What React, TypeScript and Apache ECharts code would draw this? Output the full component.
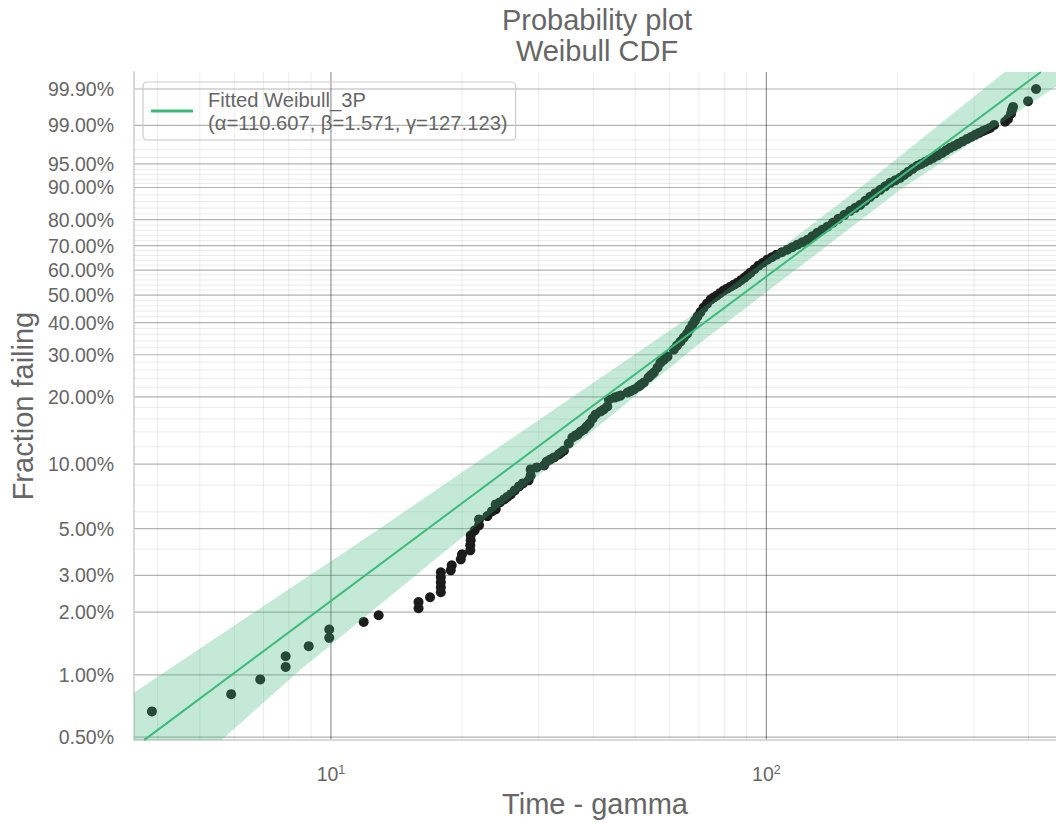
import React, { useEffect, useRef } from "react";
import * as echarts from "echarts";

const FONT = "'Liberation Sans', Arial, Helvetica, sans-serif";
const TEXT = "#666666";
const GREEN = "#3dbb7b";
const BAND = "rgba(61,187,123,0.3)";
const POINT = "#1c1c1c";

// Fitted Weibull_3P parameters
const ALPHA = 110.607;
const BETA = 1.571;
const GAMMA = 127.123;

// axis limits (time - gamma, fraction failing in %)
const xLimits = [3.53, 462.5];
const yLimitsPct = [0.4841, 99.9763];

// tick values
const yMajorTicksPct = [0.5, 1, 2, 3, 5, 10, 20, 30, 40, 50, 60, 70, 80, 90, 95, 99, 99.9];
const yMinorTicksPct = [
  4, 6, 8, 12, 14, 16, 18, 22, 24, 26, 28, 32, 34, 36, 38, 42, 44, 46, 48, 52, 54, 56, 58,
  62, 64, 66, 68, 72, 74, 76, 78, 82, 84, 86, 88, 91, 92, 93, 94, 96, 97, 98,
];
const xMajorTicks = [10, 100];
const xMinorTicks = [4, 5, 6, 7, 8, 9, 20, 30, 40, 50, 60, 70, 80, 90, 200, 300, 400];

// failure data: time - gamma and plotted fraction failing (%)
const failureTimes = [
  3.88, 5.9, 6.88, 7.87, 7.87, 8.89, 9.91, 9.91, 11.89, 12.87,
  15.89, 15.89, 16.89, 17.88, 17.88, 17.88, 17.88, 17.88, 18.84, 18.94,
  19.87, 20.0, 20.89, 20.89, 20.94, 20.94, 21.39, 21.88, 21.88, 22.87,
  23.41, 23.9, 23.9, 24.42, 24.97, 25.41, 25.87, 26.42, 27.03, 27.57,
  28.45, 28.75, 28.75, 29.69, 30.86, 31.3, 31.88, 32.53, 33.35, 33.79,
  34.29, 35.16, 35.85, 36.47, 36.87, 37.45, 38.12, 38.66, 39.26, 39.9,
  40.53, 41.61, 42.28, 43.11, 43.48, 44.81, 45.52, 46.25, 48.0, 48.76,
  49.62, 50.87, 51.54, 52.31, 53.63, 54.34, 55.15, 56.23, 57.13, 58.2,
  59.29, 61.3, 62.33, 63.51, 64.61, 65.79, 66.68, 67.66, 68.55, 69.46,
  70.56, 71.72, 73.03, 74.41, 75.58, 76.81, 78.21, 79.71, 81.17, 82.7,
  84.23, 85.82, 87.41, 89.04, 90.45, 91.9, 93.87, 95.87, 98.17, 100.5,
  102.9, 105.4, 108.5, 111.7, 114.7, 117.8, 120.9, 124.2, 127.5, 130.9,
  134.4, 138.0, 142.1, 146.3, 151.0, 155.8, 160.0, 164.3, 168.7, 173.2,
  177.8, 182.6, 187.5, 192.5, 197.7, 202.9, 207.3, 211.7, 216.8, 222.0,
  226.8, 231.6, 236.5, 241.5, 247.4, 253.3, 258.7, 264.2, 269.9, 275.6,
  282.3, 289.1, 295.3, 301.6, 308.0, 314.6, 320.4, 326.4, 333.4, 353.4,
  358.9, 364.7, 366.6, 368.6, 399.0, 416.2,
];
const fractionFailing = [
  0.666, 0.807, 0.95, 1.092, 1.229, 1.374, 1.506, 1.652, 1.797, 1.933,
  2.089, 2.239, 2.359, 2.492, 2.632, 2.782, 2.937, 3.104, 3.172, 3.351,
  3.578, 3.778, 3.948, 4.171, 4.402, 4.649, 4.909, 5.181, 5.528, 5.73,
  6.028, 6.163, 6.5, 6.642, 6.859, 7.048, 7.24, 7.554, 7.888, 8.141,
  8.412, 8.865, 9.449, 9.651, 9.86, 10.28, 10.5, 10.73, 11.07, 11.3,
  11.55, 12.43, 13.22, 13.5, 13.64, 14.06, 14.36, 14.8, 15.26, 16.07,
  16.74, 17.25, 17.6, 18.15, 19.47, 19.85, 20.05, 20.25, 20.87, 21.17,
  21.49, 22.15, 22.56, 23.02, 24.17, 24.74, 25.34, 26.59, 27.88, 28.67,
  29.5, 31.47, 32.63, 33.84, 35.06, 36.34, 37.78, 39.29, 40.64, 42.05,
  43.64, 45.28, 46.76, 48.27, 49.03, 49.81, 50.76, 51.77, 52.52, 53.32,
  54.11, 54.93, 55.91, 56.92, 57.93, 58.96, 60.37, 61.82, 63.04, 64.28,
  65.28, 66.29, 67.32, 68.34, 69.35, 70.38, 71.36, 72.34, 73.73, 75.08,
  76.23, 77.37, 78.85, 80.29, 81.7, 83.06, 84.05, 85.02, 86.26, 87.45,
  88.44, 89.39, 90.3, 91.16, 91.74, 92.31, 92.94, 93.56, 94.13, 94.68,
  95.0, 95.34, 95.64, 95.95, 96.29, 96.62, 96.93, 97.22, 97.43, 97.64,
  97.87, 98.09, 98.25, 98.41, 98.55, 98.68, 98.77, 98.86, 99.02, 99.17,
  99.29, 99.47, 99.58, 99.65, 99.76, 99.9,
];

// confidence band edges (time - gamma, fraction failing %)
const bandUpperTime = [2.969, 3.533, 8.535, 11.01, 70.56, 179.4, 353.3, 425.1];
const bandUpperPct = [0.661, 0.822, 2.82, 3.99, 44.56, 92.94, 99.977, 99.9987];
const bandLowerTime = [2.969, 5.448, 5.644, 8.535, 18.52, 70.56, 202.9, 462.6, 520.0];
const bandLowerPct = [0.39, 0.458, 0.49, 1.065, 3.99, 33.51, 89.39, 99.917, 99.999];

const tx = (t: number) => Math.log10(t);
const ty = (p: number) => Math.log(-Math.log(1 - p / 100));
const invTy = (v: number) => 100 * (1 - Math.exp(-Math.exp(v)));

const LEGEND_NAME = `Fitted Weibull_3P\n(α=${ALPHA}, β=${BETA}, γ=${GAMMA})`;

export default function App() {
  const ref = useRef<HTMLDivElement>(null);

  useEffect(() => {
    if (!ref.current) return;
    const chart = echarts.init(ref.current, undefined, { renderer: "svg" });

    const X_MIN = tx(xLimits[0]);
    const X_MAX = tx(xLimits[1]);
    const Y_MIN = ty(yLimitsPct[0]);
    const Y_MAX = ty(yLimitsPct[1]);

    const gridLineData = [
      ...xMinorTicks.map((t) => [tx(t), 0, 0]),
      ...yMinorTicksPct.map((p) => [ty(p), 1, 0]),
      ...xMajorTicks.map((t) => [tx(t), 0, 1]),
      ...yMajorTicksPct.map((p) => [ty(p), 1, 1]),
    ];

    const scatterData = failureTimes.map((t, i) => [tx(t), ty(fractionFailing[i])]);

    const upper = bandUpperTime.map((t, i) => [tx(t), ty(bandUpperPct[i])]);
    const lower = bandLowerTime.map((t, i) => [tx(t), ty(bandLowerPct[i])]);
    const bandPolygon = [...upper, ...lower.slice().reverse()];

    const fitData = yLimitsPct.map((p) => {
      const time = ALPHA * Math.pow(-Math.log(1 - p / 100), 1 / BETA);
      return [tx(time), ty(p)];
    });

    const option: any = {
      animation: false,
      backgroundColor: "#ffffff",
      textStyle: { fontFamily: FONT },
      grid: { left: 133, right: 0, top: 72, bottom: 82, containLabel: false },
      graphic: [
        {
          type: "text",
          x: 597,
          y: 4,
          silent: true,
          style: {
            text: "Probability plot\nWeibull CDF",
            fontSize: 29,
            fontFamily: FONT,
            fill: TEXT,
            align: "center",
            verticalAlign: "top",
            lineHeight: 31,
          },
        },
      ],
      legend: {
        left: 143,
        top: 82,
        orient: "vertical",
        padding: [6, 8, 6, 8],
        itemWidth: 42,
        itemHeight: 3,
        icon: "rect",
        data: [LEGEND_NAME],
        borderColor: "#cccccc",
        borderWidth: 1.2,
        borderRadius: 4,
        backgroundColor: "transparent",
        textStyle: {
          fontSize: 20.2,
          color: TEXT,
          fontFamily: FONT,
          lineHeight: 23,
          padding: [0, 0, 0, 10],
        },
      },
      xAxis: {
        type: "value",
        min: X_MIN,
        max: X_MAX,
        name: "Time - gamma",
        nameLocation: "middle",
        nameGap: 47,
        nameTextStyle: { fontSize: 29, color: TEXT, fontFamily: FONT },
        axisLine: { show: true, onZero: false, lineStyle: { color: "#cccccc", width: 1.5 } },
        axisTick: { show: false },
        splitLine: { show: false },
        axisLabel: {
          customValues: xMajorTicks.map(tx),
          formatter: (v: number) => `{b|10}{s|${Math.round(v)}}`,
          margin: 23,
          rich: {
            b: { fontSize: 19.5, color: TEXT, fontFamily: FONT, lineHeight: 22 },
            s: { fontSize: 12.5, color: TEXT, fontFamily: FONT, verticalAlign: "top", lineHeight: 12 },
          },
        },
      },
      yAxis: {
        type: "value",
        min: Y_MIN,
        max: Y_MAX,
        name: "Fraction failing",
        nameLocation: "middle",
        nameGap: 97,
        nameTextStyle: { fontSize: 29, color: TEXT, fontFamily: FONT },
        axisLine: { show: true, onZero: false, lineStyle: { color: "#cccccc", width: 1.5 } },
        axisTick: { show: false },
        splitLine: { show: false },
        axisLabel: {
          customValues: yMajorTicksPct.map(ty),
          formatter: (v: number) => `${invTy(v).toFixed(2)}%`,
          fontSize: 19.5,
          color: TEXT,
          fontFamily: FONT,
          margin: 20,
          hideOverlap: false,
        },
      },
      series: [
        {
          type: "custom",
          name: "grid",
          silent: true,
          z: 0,
          data: gridLineData,
          renderItem: (params: any, api: any) => {
            const v = api.value(0);
            const orient = api.value(1);
            const major = api.value(2);
            let p1, p2;
            if (orient === 0) {
              p1 = api.coord([v, Y_MIN]);
              p2 = api.coord([v, Y_MAX]);
            } else {
              p1 = api.coord([X_MIN, v]);
              p2 = api.coord([X_MAX, v]);
            }
            const stroke = major
              ? orient === 0
                ? "rgba(0,0,0,0.42)"
                : "rgba(0,0,0,0.3)"
              : "rgba(0,0,0,0.08)";
            return {
              type: "line",
              shape: { x1: p1[0], y1: p1[1], x2: p2[0], y2: p2[1] },
              style: { stroke, lineWidth: major ? 1.2 : 1 },
            };
          },
        },
        {
          type: "scatter",
          name: "Failures",
          z: 2,
          symbolSize: 10,
          itemStyle: { color: POINT, opacity: 1 },
          data: scatterData,
        },
        {
          type: "custom",
          name: "CI band",
          silent: true,
          z: 3,
          clip: true,
          data: bandPolygon,
          renderItem: (params: any, api: any) => {
            if (params.dataIndex !== 0) return null;
            const pts = bandPolygon.map((p) => api.coord(p));
            return { type: "polygon", shape: { points: pts }, style: { fill: BAND } };
          },
        },
        {
          type: "line",
          name: LEGEND_NAME,
          z: 4,
          showSymbol: false,
          symbol: "none",
          color: GREEN,
          lineStyle: { color: GREEN, width: 2 },
          data: fitData,
        },
      ],
    };

    chart.setOption(option);
    return () => chart.dispose();
  }, []);

  return (
    <div
      ref={ref}
      style={{ position: "fixed", left: 0, top: 0, width: 1056, height: 823, background: "#fff" }}
    />
  );
}
